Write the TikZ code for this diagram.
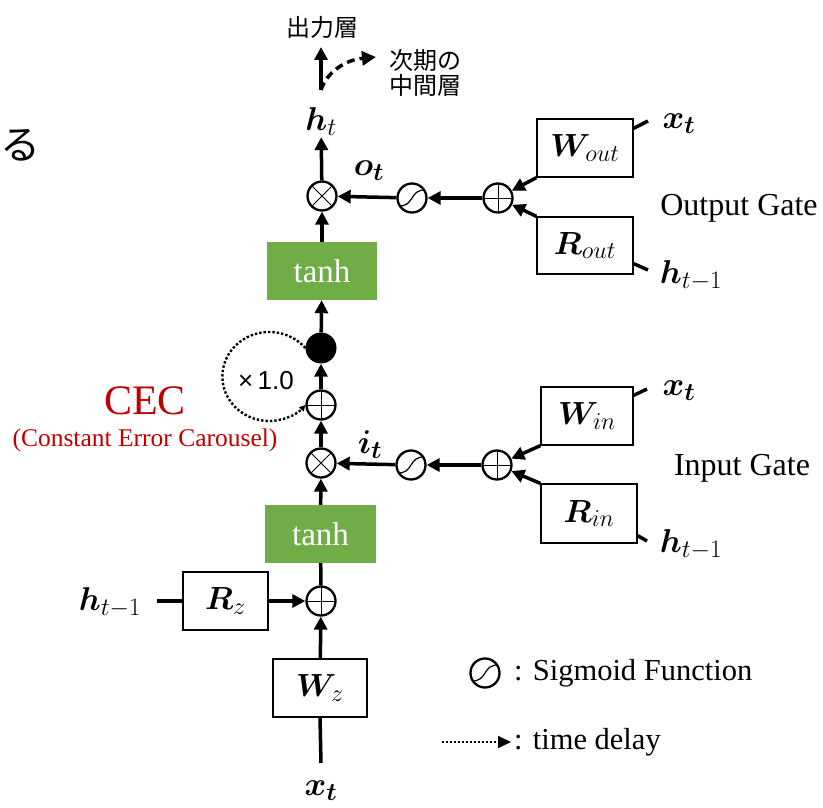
\documentclass[tikz,border=0pt]{standalone}
\usepackage{fix-cm}
\usepackage{bm}
\usepackage{fontspec}
\setmainfont{Liberation Serif}
\newfontfamily\jpfont{Noto Sans CJK JP}
\newfontfamily\arialfont{Liberation Sans}
\renewcommand\defaultscriptratio{.76}
\usetikzlibrary{arrows.meta,calc}
\definecolor{actgreen}{HTML}{70AD47}
\definecolor{cecred}{HTML}{C00000}
\begin{document}
\begin{tikzpicture}[x=1pt,y=-1pt,
  box/.style={draw, line width=1.3pt, minimum width=#1, minimum height=58pt, inner sep=0pt, font=\fontsize{32}{34}\selectfont},
  box/.default=94pt,
  actbox/.style={fill=actgreen, minimum width=111pt, minimum height=58pt, inner sep=0pt, text=white, font=\fontsize{33}{35}\selectfont},
  op/.style={circle, draw, line width=2.3pt, minimum size=29pt, inner sep=0pt},
  plusop/.style={op, path picture={\draw[line width=1pt] (path picture bounding box.north) -- (path picture bounding box.south) (path picture bounding box.west) -- (path picture bounding box.east);}},
  mulop/.style={op, path picture={\draw[line width=1pt] (path picture bounding box.north west) -- (path picture bounding box.south east) (path picture bounding box.south west) -- (path picture bounding box.north east);}},
  sigop/.style={op, path picture={\draw[line width=1.2pt] ($(path picture bounding box.center)+(-14pt,-8pt)$) .. controls ($(path picture bounding box.center)+(3pt,-9pt)$) and ($(path picture bounding box.center)+(-3pt,9pt)$) .. ($(path picture bounding box.center)+(14pt,8pt)$);}},
  flow/.style={line width=3.5pt, -{Triangle[length=13pt,width=13pt]}},
  plain/.style={line width=3.5pt},
  delay/.style={line width=2.4pt, dotted, -{Triangle[length=6pt,width=6pt]}},
  mlabel/.style={font=\fontsize{33}{35}\selectfont, inner sep=1pt},
  tlabel/.style={font=\fontsize{32}{34}\selectfont, inner sep=0pt},
  leglabel/.style={font=\fontsize{30.5}{32}\selectfont, inner sep=0pt},
  jlabel/.style={font=\jpfont\fontsize{24}{26}\selectfont, inner sep=0pt},
]
\useasboundingbox[fill=white] (0,0) rectangle (823,808);

% stray character from slide
\node[font=\jpfont\fontsize{40}{42}\selectfont, anchor=west, inner sep=0pt] (ru) at (0,145) {る};

% main column
\node[box=94pt] (Wz) at (320,688) {$\bm{W}_{z}$};
\node[plusop] (plusz) at (321,601) {};
\node[box=85pt] (Rz) at (225.5,601) {$\bm{R}_{z}$};
\node[mlabel] (hz) at (110,603) {$\bm{h}_{t-1}$};
\node[mlabel, inner sep=0pt] (xtb) at (321,791) {$\bm{x}_{\bm{t}}$};
\coordinate (xtend) at (321,763);
\coordinate (hzend) at (157,601);
\node[actbox] (tanh1) at (320.5,534) {tanh};
\node[mulop] (mulI) at (321,463) {};
\node[plusop] (plusC) at (321,405) {};
\node[circle, fill=black, minimum size=31pt, inner sep=0pt] (dot) at (321,348) {};
\node[actbox, minimum width=110pt] (tanh2) at (322,271) {tanh};
\node[mulop] (mulO) at (322,196) {};
\node[mlabel] (ht) at (321,122) {$\bm{h}_t$};
\coordinate (topstart) at (321,90);
\coordinate (toptip) at (321,47);
\coordinate (nexttip) at (376,57);
\node[jlabel] (outl) at (322,27) {出力層};
\node[jlabel] (next1) at (425,60) {次期の};
\node[jlabel] (next2) at (425,85) {中間層};

\draw[plain] (xtend) -- (Wz.south);
\draw[flow] (Wz) -- (plusz);
\draw[plain] (hzend) -- (Rz);
\draw[flow] (Rz) -- (plusz);
\draw[plain] (plusz) -- (tanh1);
\draw[flow] (tanh1) -- (mulI);
\draw[flow] (mulI) -- (plusC);
\draw[flow] (plusC) -- (dot);
\draw[flow] (dot) -- (tanh2);
\draw[flow] (tanh2) -- (mulO);
\draw[flow] (mulO) -- (ht);
\draw[flow] (topstart) -- (toptip);
\draw[line width=3.5pt, dash pattern=on 8pt off 5pt, -{Triangle[length=14pt,width=14pt]}] (topstart) .. controls (327,72) and (345,60) .. (nexttip);

% CEC loop
\draw[delay] (dot.west) arc[start angle=-39.8, end angle=-320.2, x radius=46.9, y radius=44.5];
\node[font=\arialfont\fontsize{26}{28}\selectfont, inner sep=0pt] (times) at (266,381) {×\,1.0};
\node[font=\fontsize{42}{44}\selectfont, text=cecred, inner sep=0pt] (cec) at (145,401) {CEC};
\node[font=\fontsize{25.5}{27}\selectfont, text=cecred, inner sep=0pt] (cecfull) at (145,440) {(Constant Error Carousel)};

% output gate
\node[plusop] (plusOut) at (498,198) {};
\node[sigop] (sigO) at (412,198) {};
\node[box=96pt] (Wout) at (585,148) {$\bm{W}_{out}$};
\node[box=96pt, minimum height=57pt] (Rout) at (585,245.5) {$\bm{R}_{out}$};
\node[mlabel] (ot) at (369,171) {$\bm{o}_{\bm{t}}$};
\node[mlabel] (xtO) at (679,124) {$\bm{x}_{\bm{t}}$};
\node[mlabel] (hO) at (691,276) {$\bm{h}_{t-1}$};
\coordinate (xtOend) at (648,121);
\coordinate (hOend) at (648,270);
\node[tlabel] (og) at (739,208) {Output Gate};
\draw[flow] (plusOut) -- (sigO);
\draw[flow] (sigO) -- (mulO);
\draw[flow] (Wout.south west) -- (plusOut);
\draw[flow] (Rout.north west) -- (plusOut);
\draw[plain] ([yshift=-10pt]Wout.north east) -- (xtOend);
\draw[plain] ([yshift=11pt]Rout.south east) -- (hOend);

% input gate
\node[plusop] (plusIn) at (497,465) {};
\node[sigop] (sigI) at (411,465) {};
\node[box=92pt] (Win) at (587,416) {$\bm{W}_{in}$};
\node[box=96pt, minimum height=59pt] (Rin) at (589,513.5) {$\bm{R}_{in}$};
\node[mlabel] (it) at (370,445) {$\bm{i}_{\bm{t}}$};
\node[mlabel] (xtI) at (679,391) {$\bm{x}_{\bm{t}}$};
\node[mlabel] (hI) at (691,545) {$\bm{h}_{t-1}$};
\coordinate (xtIend) at (647,389);
\coordinate (hIend) at (647,541);
\node[tlabel] (ig) at (742,468) {Input Gate};
\draw[flow] (plusIn) -- (sigI);
\draw[flow] (sigI) -- (mulI);
\draw[flow] (Win.south west) -- (plusIn);
\draw[flow] (Rin.north west) -- (plusIn);
\draw[plain] ([yshift=-9pt]Win.north east) -- (xtIend);
\draw[plain] ([yshift=8pt]Rin.south east) -- (hIend);

% legend
\node[sigop] (sigLeg) at (485,673) {};
\node[leglabel, anchor=west] (sigtext) at (514,673) {: Sigmoid Function};
\coordinate (delstart) at (442,742);
\coordinate (delend) at (511,742);
\draw[line width=2pt, dotted, -{Triangle[length=13pt,width=12pt]}] (delstart) -- (delend);
\node[leglabel, anchor=west] (deltext) at (514,742) {: time delay};
\end{tikzpicture}
\end{document}
